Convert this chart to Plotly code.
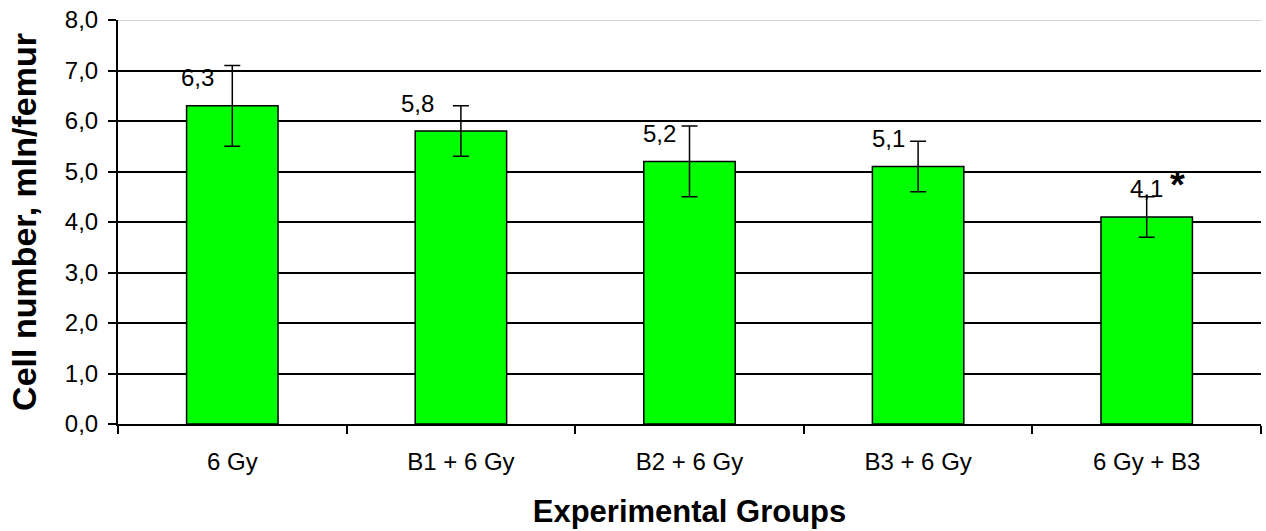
import plotly.graph_objects as go

groups = ["6 Gy", "B1 + 6 Gy", "B2 + 6 Gy", "B3 + 6 Gy", "6 Gy + B3"]
values = [6.3, 5.8, 5.2, 5.1, 4.1]
errors = [0.8, 0.5, 0.7, 0.5, 0.4]
value_labels = ["6,3", "5,8", "5,2", "5,1", "4,1"]
significance = ["", "", "", "", "*"]
y_ticks = [0, 1, 2, 3, 4, 5, 6, 7, 8]

label_xshift = [-35, -43, -30, -30, 0]

FONT = "Liberation Sans, Arial, sans-serif"

fig = go.Figure()
fig.add_trace(go.Bar(
    x=groups, y=values, width=0.4,
    marker=dict(color="#00FF00", line=dict(color="black", width=1.5)),
    error_y=dict(type="data", array=errors, visible=True, color="black",
                 thickness=1.5, width=8),
    showlegend=False, hoverinfo="skip",
))

for i, (g, v, lab) in enumerate(zip(groups, values, value_labels)):
    fig.add_annotation(x=g, y=v, text=lab, showarrow=False, yanchor="middle",
                       yshift=28, xshift=label_xshift[i],
                       font=dict(family=FONT, size=24, color="black"))
    if significance[i]:
        fig.add_annotation(x=g, y=v, text="<b>" + significance[i] + "</b>",
                           showarrow=False, yanchor="middle", yshift=32,
                           xshift=31,
                           font=dict(family=FONT, size=38, color="black"))

fig.add_shape(type="line", xref="paper", yref="y", x0=0, x1=1, y0=8, y1=8,
              line=dict(color="#C8C8C8", width=1.5), layer="above")

fig.update_layout(
    width=1266, height=531,
    margin=dict(l=118, r=5, t=20, b=107),
    paper_bgcolor="white", plot_bgcolor="white",
    separators=", ",
    bargap=0.6,
    font=dict(family=FONT, color="black"),
    xaxis=dict(
        tickson="boundaries", ticks="outside", ticklen=8, tickwidth=1.5,
        tickcolor="black", showline=True, linecolor="black", linewidth=2,
        tickfont=dict(size=24, family=FONT), ticklabelstandoff=15,
        title=dict(text="<b>Experimental Groups</b>",
                   font=dict(size=31, family=FONT), standoff=27),
    ),
    yaxis=dict(
        range=[0, 8], tickvals=y_ticks, tickformat=".1f",
        ticks="outside", ticklen=8, tickwidth=1.5, tickcolor="black",
        showline=True, linecolor="black", linewidth=2,
        showgrid=True, gridcolor="black", gridwidth=1.5,
        zeroline=False, ticklabelstandoff=5,
        tickfont=dict(size=24, family=FONT),
        title=dict(text="<b>Cell number, mln/femur</b>",
                   font=dict(size=34, family=FONT), standoff=18),
    ),
)

fig.write_html("out.html", config={"displayModeBar": False},
               post_script="document.body.style.margin='0';")
